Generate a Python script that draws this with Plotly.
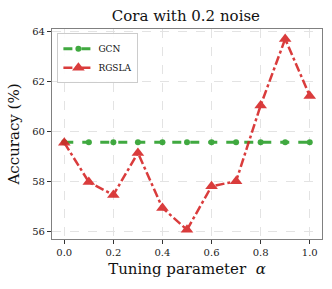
import plotly.graph_objects as go

alpha = [0.0, 0.1, 0.2, 0.3, 0.4, 0.5, 0.6, 0.7, 0.8, 0.9, 1.0]
gcn = [59.57] * 11
rgsla = [59.55, 57.97, 57.45, 59.14, 56.93, 56.05, 57.8, 58.0, 61.05, 63.72, 61.43]
xticks = [0.0, 0.2, 0.4, 0.6, 0.8, 1.0]
yticks = [56, 58, 60, 62, 64]

font = "DejaVu Serif"
fig = go.Figure()
fig.add_trace(go.Scatter(x=alpha, y=gcn, name="GCN", mode="lines+markers",
                         line=dict(color="#2ca02c", width=3, dash="dash"),
                         marker=dict(symbol="circle", size=6, color="#2ca02c"),
                         opacity=0.9))
fig.add_trace(go.Scatter(x=alpha, y=rgsla, name="RGSLA", mode="lines+markers",
                         line=dict(color="#d62728", width=2.5, dash="dashdot"),
                         marker=dict(symbol="triangle-up", size=11, color="#d62728"),
                         opacity=0.9))

axcommon = dict(showline=True, linecolor="#808080", linewidth=1.2, mirror=True,
                ticks="outside", ticklen=4, tickcolor="#333", zeroline=False,
                showgrid=True, gridcolor="#e3e3e3", griddash="dash", gridwidth=1,
                automargin=False,
                tickfont=dict(family=font, size=10, color="#222"))
fig.update_layout(
    width=332, height=289,
    margin=dict(l=52, r=10, t=29, b=50),
    paper_bgcolor="white", plot_bgcolor="white",
    title=dict(text="Cora with 0.2 noise", x=0.56, xanchor="center", y=0.945, yanchor="middle",
               font=dict(family=font, size=15, color="#111")),
    xaxis=dict(range=[-0.05, 1.05], tickvals=xticks, ticktext=[f"{v:.1f}" for v in xticks],
               title=dict(text="Tuning parameter  <i>α</i>", font=dict(family=font, size=15, color="#111"), standoff=6),
               **axcommon),
    yaxis=dict(range=[55.68, 64.12], tickvals=yticks,
               title=dict(text="Accuracy (%)", font=dict(family=font, size=15, color="#111"), standoff=8),
               **axcommon),
    legend=dict(x=0.02, y=0.98, xanchor="left", yanchor="top", bordercolor="#cccccc", borderwidth=1,
                bgcolor="rgba(255,255,255,0.9)", font=dict(family=font, size=9, color="#111"),
                tracegroupgap=0, itemwidth=30),
    showlegend=True,
)
fig.write_html("out.html", config={"displayModeBar": False},
               post_script="document.body.style.margin='0';")
